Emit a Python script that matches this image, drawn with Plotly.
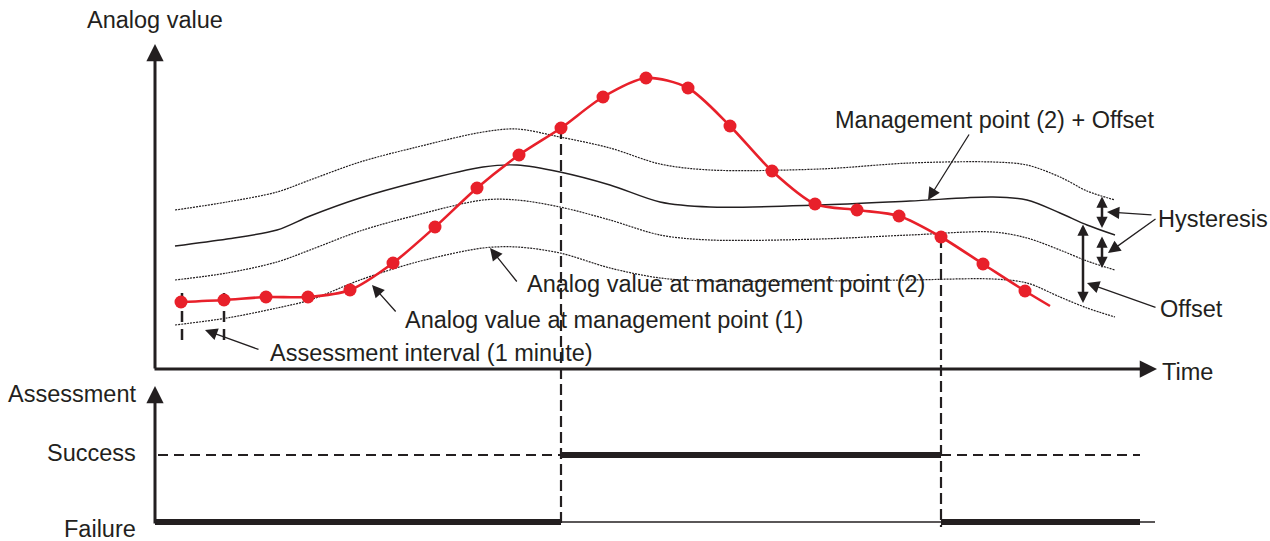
import plotly.graph_objects as go

# schematic, so "values" are read straight off the picture (time → right, value → down)
curve_t = [175, 227, 277, 310, 360, 417, 483, 517, 560, 610, 660, 710, 820, 910, 993, 1027, 1060, 1087, 1115]
upper_hyst = [210, 202, 192, 180, 162, 147, 132, 129, 137, 148, 164, 170, 169, 163, 162, 165, 177, 191, 200]
mgmt_offset = [246, 239, 230, 216, 198, 182, 167, 165, 172, 185, 202, 207, 205, 201, 197, 200, 213, 225, 235]
lower_hyst = [280, 273, 262, 250, 231, 215, 200, 200, 207, 220, 235, 240, 239, 235, 232, 238, 250, 261, 270]
mgmt_point2 = [325, 318, 308, 300, 280, 262, 248, 247, 253, 268, 278, 281, 281, 280, 279, 283, 297, 308, 317]

sample_t = [181, 224, 266, 308, 350, 393, 435, 477, 519, 561, 603, 646, 688, 730, 772, 815, 857, 899, 941, 983, 1025]
sample_v = [302, 300, 297, 297, 290, 263, 227, 188, 155, 128, 97, 78, 88, 126, 171, 204, 210, 216, 237, 264, 291]
tail_t, tail_v = 1050, 306

switch_t = [561, 941]          # success starts / ends
switch_v = [128, 237]
assess_end = 1140
success_y, failure_y = 455, 522
interval_t = [182, 224]

INK = "#231f20"
RED = "#e8202a"
FONT = dict(family="Liberation Sans, Arial, sans-serif", size=23.5, color=INK)

fig = go.Figure()

# limit curves
for ys, dash, w in [(upper_hyst, "2px,1px", 1.2), (mgmt_offset, "solid", 1.4),
                    (lower_hyst, "2px,1px", 1.2), (mgmt_point2, "2px,1px", 1.2)]:
    fig.add_trace(go.Scatter(x=curve_t, y=ys, mode="lines",
                             line=dict(color=INK, width=w, dash=dash, shape="spline", smoothing=0.9)))

# dashed verticals
for t, v in zip(switch_t, switch_v):
    fig.add_trace(go.Scatter(x=[t, t], y=[v, failure_y + 5], mode="lines",
                             line=dict(color=INK, width=2.2, dash="11px,5px")))
for t in interval_t:
    fig.add_trace(go.Scatter(x=[t, t], y=[293, 343], mode="lines",
                             line=dict(color=INK, width=2.5, dash="11px,7px")))

# analog value (management point 1)
fig.add_trace(go.Scatter(x=sample_t + [tail_t], y=sample_v + [tail_v], mode="lines",
                         line=dict(color=RED, width=2.6, shape="spline", smoothing=0.8)))
fig.add_trace(go.Scatter(x=sample_t, y=sample_v, mode="markers",
                         marker=dict(color=RED, size=13)))

# assessment panel
fig.add_trace(go.Scatter(x=[158, switch_t[0]], y=[success_y] * 2, mode="lines",
                         line=dict(color=INK, width=2, dash="10px,6px")))
fig.add_trace(go.Scatter(x=[switch_t[1], assess_end], y=[success_y] * 2, mode="lines",
                         line=dict(color=INK, width=2, dash="10px,6px")))
fig.add_trace(go.Scatter(x=[switch_t[0], switch_t[1]], y=[failure_y] * 2, mode="lines",
                         line=dict(color=INK, width=1.5)))
fig.add_trace(go.Scatter(x=[assess_end, 1155], y=[failure_y] * 2, mode="lines",
                         line=dict(color=INK, width=1.5)))
for x0, x1, y in [(155, switch_t[0], failure_y), (switch_t[0], switch_t[1], success_y),
                  (switch_t[1], assess_end, failure_y)]:
    fig.add_trace(go.Scatter(x=[x0, x1], y=[y, y], mode="lines",
                             line=dict(color=INK, width=6)))


def arrow(x0, y0, x1, y1, w=1.3, size=1.9, both=False):
    fig.add_annotation(x=x1, y=y1, ax=x0, ay=y0, xref="x", yref="y", axref="x", ayref="y",
                       text="", showarrow=True, arrowhead=2, arrowsize=size, arrowwidth=w,
                       arrowcolor=INK, arrowside="end+start" if both else "end",
                       standoff=0, startstandoff=0)


def label(x, y, s, anchor="left"):
    fig.add_annotation(x=x, y=y, xref="x", yref="y", text=s, showarrow=False,
                       xanchor=anchor, yanchor="middle", font=FONT)


# axes
arrow(155, 370, 155, 44, w=3, size=1.15)
arrow(153, 369, 1157, 369, w=3, size=1.15)
arrow(155, 525, 155, 386, w=3, size=1.15)

# pointer arrows
arrow(970, 133, 928, 200)
arrow(1153, 215, 1107, 212)
arrow(1157, 218, 1108, 253)
arrow(1157, 308, 1087, 283)
arrow(518, 283, 490, 248)
arrow(397, 313, 372, 285)
arrow(260, 350, 205, 330)

# hysteresis / offset spans
arrow(1102, 195, 1102, 228, w=2.5, size=0.9, both=True)
arrow(1102, 235, 1102, 268, w=2.5, size=0.9, both=True)
arrow(1083, 223, 1083, 303, w=2.5, size=0.9, both=True)

label(85, 20, "Analog value")
label(833, 120, "Management point (2) + Offset")
label(1156, 219, "Hysteresis")
label(525, 284, "Analog value at management point (2)")
label(1158, 309, "Offset")
label(403, 320, "Analog value at management point (1)")
label(268, 353, "Assessment interval (1 minute)")
label(1160, 372, "Time")
label(138, 394, "Assessment", "right")
label(138, 453, "Success", "right")
label(138, 529, "Failure", "right")

fig.update_layout(width=1270, height=541, margin=dict(l=0, r=0, t=0, b=0),
                  paper_bgcolor="white", plot_bgcolor="white", showlegend=False)
fig.update_xaxes(range=[0, 1270], visible=False)
fig.update_yaxes(range=[541, 0], visible=False)

fig.write_html("out.html", config={"displayModeBar": False},
               post_script="document.body.style.margin='0';document.body.style.overflow='hidden';")
